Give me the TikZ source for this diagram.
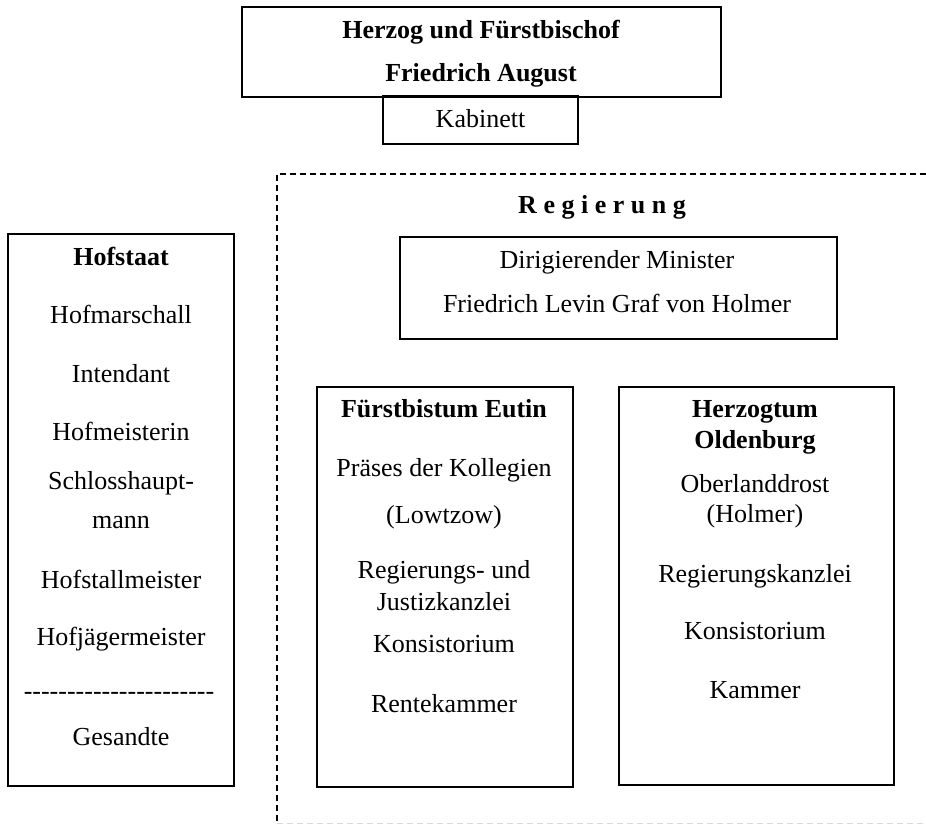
\documentclass[tikz,border=0pt]{standalone}
\usepackage{fontspec}
\setmainfont{Liberation Serif}
\begin{document}
\begin{tikzpicture}[x=1pt,y=-1pt,
  box/.style={draw, line width=1.5pt, inner sep=0pt, outer sep=0pt},
  txt/.style={anchor=base, inner sep=0pt, font=\fontsize{26}{30}\selectfont},
  btxt/.style={anchor=base, inner sep=0pt, font=\fontsize{26}{30}\selectfont\bfseries},
  frameline/.style={dash pattern=on 6pt off 4pt, line width=1.3pt},
]
\useasboundingbox (0,0) rectangle (926,824);

% boxes
\node[box, minimum width=479pt, minimum height=90pt] (topbox) at (481.5,52) {};
\node[box, minimum width=195pt, minimum height=48pt] (kabbox) at (480.5,120) {};
\node[box, minimum width=226pt, minimum height=552pt] (hofbox) at (121,510) {};
\node[box, minimum width=437pt, minimum height=102pt] (dirbox) at (618.5,288) {};
\node[box, minimum width=256pt, minimum height=400pt] (eutbox) at (445,587) {};
\node[box, minimum width=275pt, minimum height=398pt] (oldbox) at (756.5,586) {};

% dashed Regierung frame
\coordinate (ftl) at (277,174);
\coordinate (ftr) at (926,174);
\coordinate (fbl) at (277,823);
\coordinate (fbr) at (926,823);
\draw[frameline] (ftr) -- (ftl) -- (fbl);
\draw[frameline, line width=1pt, gray!30] (fbl) -- (fbr);

% top
\node[btxt] (t1) at (481,39) {Herzog und Fürstbischof};
\node[btxt] (t2) at (481,82) {Friedrich August};
\node[txt] (kab) at (480.5,128) {Kabinett};

% Regierung
\node[btxt] (reg) at (602,213) {R e g i e r u n g};
\node[txt] (d1) at (617,268) {Dirigierender Minister};
\node[txt] (d2) at (617,312) {Friedrich Levin Graf von Holmer};

% Hofstaat
\node[btxt] (h0) at (121,265) {Hofstaat};
\node[txt] (h1) at (121,323) {Hofmarschall};
\node[txt] (h2) at (121,382) {Intendant};
\node[txt] (h3) at (121,440) {Hofmeisterin};
\node[txt] (h4) at (121,489) {Schlosshaupt-};
\node[txt] (h5) at (121,528) {mann};
\node[txt] (h6) at (121,588) {Hofstallmeister};
\node[txt] (h7) at (121,645) {Hofjägermeister};
\node[txt] (h8) at (119,699) {-{}-{}-{}-{}-{}-{}-{}-{}-{}-{}-{}-{}-{}-{}-{}-{}-{}-{}-{}-{}-{}-{}};
\node[txt] (h9) at (121,745) {Gesandte};

% Fuerstbistum Eutin
\node[btxt] (e0) at (444,417) {Fürstbistum Eutin};
\node[txt] (e1) at (444,476) {Präses der Kollegien};
\node[txt] (e2) at (444,523) {(Lowtzow)};
\node[txt] (e3) at (444,578) {Regierungs- und};
\node[txt] (e4) at (444,610) {Justizkanzlei};
\node[txt] (e5) at (444,652) {Konsistorium};
\node[txt] (e6) at (444,712) {Rentekammer};

% Herzogtum Oldenburg
\node[btxt] (o0) at (755,417) {Herzogtum};
\node[btxt] (o1) at (755,448) {Oldenburg};
\node[txt] (o2) at (755,492) {Oberlanddrost};
\node[txt] (o3) at (755,522) {(Holmer)};
\node[txt] (o4) at (755,582) {Regierungskanzlei};
\node[txt] (o5) at (755,639) {Konsistorium};
\node[txt] (o6) at (755,698) {Kammer};
\end{tikzpicture}
\end{document}
